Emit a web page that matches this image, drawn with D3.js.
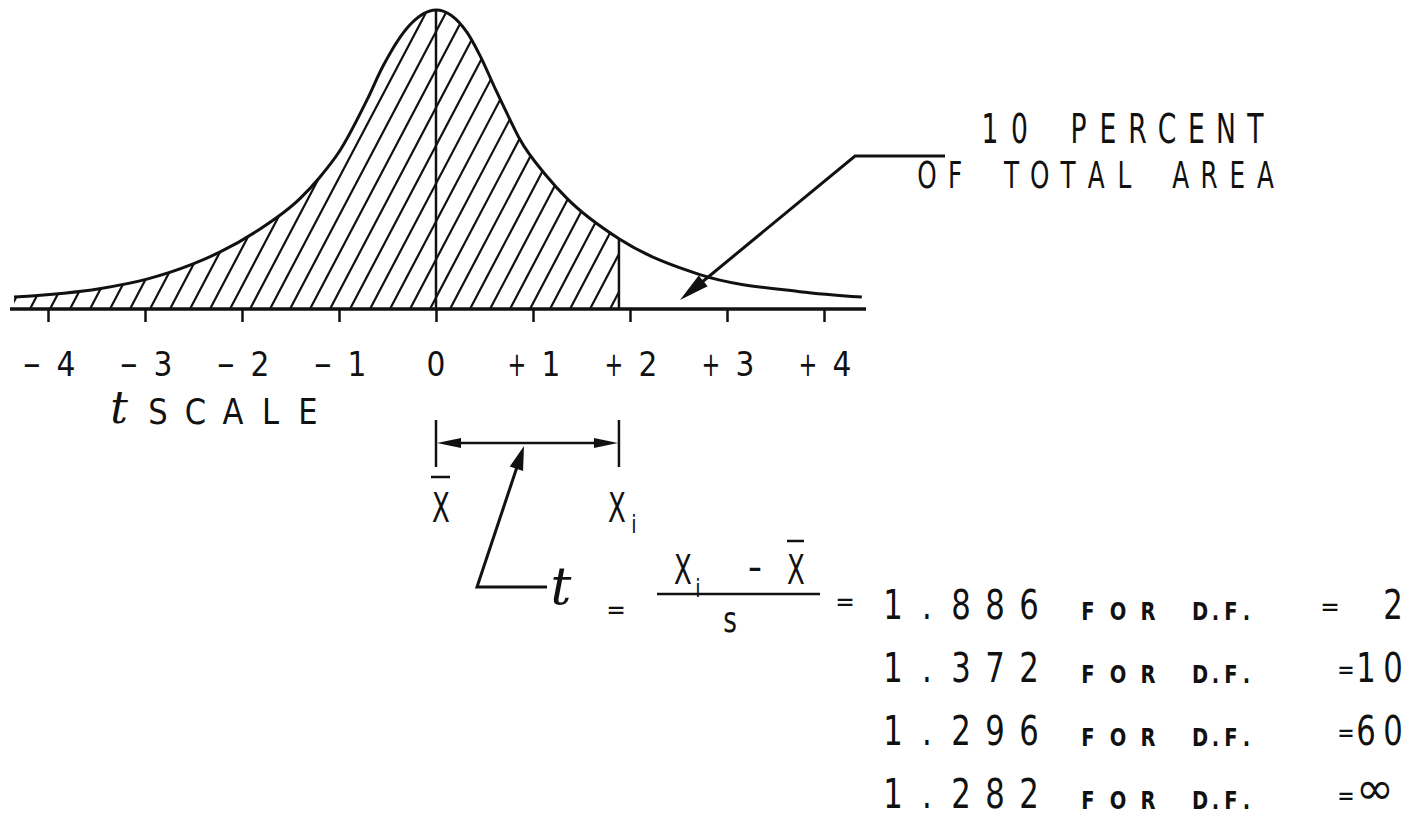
<!DOCTYPE html>
<meta charset="utf-8">
<style>
  body { margin: 0; background: #fff; }
  text { font-family: "DejaVu Sans", sans-serif; fill: #111; }
</style>
<svg id="chart" width="1414" height="820"></svg>
<script src="https://d3js.org/d3.v7.min.js"></script>
<script>

// curve: t value and height as a share of the peak
const curveT = [-4.35, -3.47, -2.98, -2.51, -2.23, -1.85, -1.4, -1.2, -0.99, -0.71, -0.55, -0.27, 0,
                0.32, 0.45, 0.62, 0.76, 0.86, 1.14, 1.35, 1.886, 2.72, 3.75, 4.39];
const curveH = [0.040, 0.068, 0.100, 0.150, 0.190, 0.260, 0.370, 0.440, 0.530, 0.700, 0.810, 0.950, 1,
                0.925, 0.850, 0.730, 0.635, 0.570, 0.445, 0.370, 0.235, 0.115, 0.058, 0.040];
const tickVals = [-4, -3, -2, -1, 0, 1, 2, 3, 4];
const cutT = 1.886;
const tValues = ["1.886", "1.372", "1.296", "1.282"];
const dfValues = ["2", "10", "60", "∞"];

const ink = "#111";
const svg = d3.select("#chart");

const x = d3.scaleLinear().domain([-4, 4]).range([48, 824]);
const y = d3.scaleLinear().domain([0, 1]).range([309, 10]);

const pts = curveT.map((t, i) => ({ t: t, h: curveH[i] }));
const line = d3.line().x(d => x(d.t)).y(d => y(d.h)).curve(d3.curveMonotoneX);
const area = d3.area().x(d => x(d.t)).y0(y(0)).y1(d => y(d.h)).curve(d3.curveMonotoneX);

// one character, centred, squeezed sideways like the lettering guide
function glyph(g, ch, cx, by, size, sx, opts) {
  opts = opts || {};
  return g.append("text")
    .attr("transform", "translate(" + cx + "," + by + ") scale(" + sx + ",1)")
    .attr("text-anchor", "middle")
    .attr("font-size", size)
    .attr("font-weight", opts.bold ? "bold" : null)
    .attr("font-style", opts.italic ? "italic" : null)
    .style("font-family", opts.serif ? "'DejaVu Serif', serif" : null)
    .text(ch);
}
function spaced(g, str, x0, pitch, by, size, sx, opts) {
  Array.from(str).forEach((ch, i) => {
    if (ch !== " ") glyph(g, ch, x0 + i * pitch, by, size, sx, opts);
  });
}
function arrowHead(g, fx, fy, tx, ty, len, half) {
  const dx = tx - fx, dy = ty - fy, L = Math.hypot(dx, dy);
  const ux = dx / L, uy = dy / L;
  const bx = tx - ux * len, by = ty - uy * len;
  g.append("path")
    .attr("d", "M" + tx + "," + ty + "L" + (bx - uy * half) + "," + (by + ux * half) +
               "L" + (bx + uy * half) + "," + (by - ux * half) + "Z")
    .attr("fill", ink);
}

// clip areas for the hatching
const defs = svg.append("defs");
defs.append("clipPath").attr("id", "under")
  .append("path").attr("d", area(pts));
defs.append("clipPath").attr("id", "leftOfCut")
  .append("rect").attr("x", 0).attr("y", 0)
  .attr("width", x(cutT)).attr("height", y(0));

const slope = 1.9;
const hatchX = d3.range(x(cutT) - 10, -200, -20);
svg.append("g").attr("clip-path", "url(#leftOfCut)")
  .append("g").attr("clip-path", "url(#under)")
  .selectAll("line")
  .data(hatchX)
  .join("line")
    .attr("x1", d => d).attr("y1", y(0) + 2)
    .attr("x2", d => d + (y(0) + 2) / slope).attr("y2", 0)
    .attr("stroke", ink).attr("stroke-width", 2.2);

// curve
svg.append("path")
  .attr("d", line(pts))
  .attr("fill", "none").attr("stroke", ink).attr("stroke-width", 3);

// centre line and cut-off line
svg.append("line")
  .attr("x1", x(0)).attr("y1", y(1)).attr("x2", x(0)).attr("y2", y(0))
  .attr("stroke", ink).attr("stroke-width", 2.5);
svg.append("line")
  .attr("x1", x(cutT)).attr("y1", y(curveH[curveT.indexOf(cutT)])).attr("x2", x(cutT)).attr("y2", y(0))
  .attr("stroke", ink).attr("stroke-width", 2.5);

// base line and ticks
svg.append("line")
  .attr("x1", 10).attr("x2", 866).attr("y1", y(0)).attr("y2", y(0))
  .attr("stroke", ink).attr("stroke-width", 3.5);
svg.append("g")
  .attr("transform", "translate(0," + y(0) + ")")
  .call(d3.axisBottom(x).tickValues(tickVals).tickSize(13).tickFormat(() => ""))
  .call(g => g.select(".domain").remove())
  .call(g => g.selectAll(".tick line").attr("stroke", ink).attr("stroke-width", 2.5));

const lab = svg.append("g");
tickVals.forEach(t => {
  if (t === 0) {
    glyph(lab, "0", x(t), 376, 33, 0.9);
  } else {
    glyph(lab, t < 0 ? "−" : "+", x(t) - 16, 376, 33, 0.68);
    glyph(lab, String(Math.abs(t)), x(t) + 18, 376, 33, 0.9);
  }
});
glyph(lab, "t", 119, 423, 44, 1, { italic: true, serif: true });
spaced(lab, "SCALE", 158, 37.5, 424, 36, 0.85);

// 10 percent call-out
const note = svg.append("g");
note.append("polyline")
  .attr("points", "945,156 855,156 690,292")
  .attr("fill", "none").attr("stroke", ink).attr("stroke-width", 3);
arrowHead(note, 855, 156, 680, 300, 30, 7);
spaced(note, "10 PERCENT", 990, 29.5, 143, 41, 0.65);
spaced(note, "OF TOTAL AREA", 927, 28.2, 188, 38, 0.65);

// X-bar to Xi bracket
const br = svg.append("g");
[x(0), x(cutT)].forEach(v => {
  br.append("line").attr("x1", v).attr("x2", v).attr("y1", 420).attr("y2", 467)
    .attr("stroke", ink).attr("stroke-width", 2.5);
});
br.append("line").attr("x1", x(0) + 10).attr("x2", x(cutT) - 10).attr("y1", 443).attr("y2", 443)
  .attr("stroke", ink).attr("stroke-width", 2.5);
arrowHead(br, x(cutT), 443, x(0) + 1, 443, 24, 5);
arrowHead(br, x(0), 443, x(cutT) - 1, 443, 24, 5);
glyph(br, "X", 441, 522, 40, 0.65);
br.append("line").attr("x1", 431).attr("x2", 450).attr("y1", 477).attr("y2", 477)
  .attr("stroke", ink).attr("stroke-width", 2.5);
glyph(br, "X", 617, 522, 40, 0.65);
glyph(br, "i", 634, 533, 24, 0.8);

// pointer to the formula
br.append("polyline")
  .attr("points", "547,587 477,587 520,458")
  .attr("fill", "none").attr("stroke", ink).attr("stroke-width", 3);
arrowHead(br, 477, 587, 524, 446, 24, 7);

// formula
const fm = svg.append("g");
glyph(fm, "t", 561, 604, 52, 1, { italic: true, serif: true });
glyph(fm, "=", 616, 619, 26, 0.9);
glyph(fm, "X", 683, 584, 40, 0.65);
glyph(fm, "i", 698, 597, 24, 0.8);
glyph(fm, "-", 755, 581, 40, 1);
glyph(fm, "X", 796, 584, 40, 0.65);
fm.append("line").attr("x1", 787).attr("x2", 804).attr("y1", 541).attr("y2", 541)
  .attr("stroke", ink).attr("stroke-width", 2.5);
fm.append("line").attr("x1", 657).attr("x2", 820).attr("y1", 594).attr("y2", 594)
  .attr("stroke", ink).attr("stroke-width", 2.5);
glyph(fm, "s", 730, 632, 35, 0.75);
glyph(fm, "=", 845, 611, 26, 0.9);

// t values for each degrees of freedom
tValues.forEach((v, r) => {
  const by = 619 + r * 63;
  spaced(fm, v, 893, 34, by, 41, 0.75);
  spaced(fm, "FOR", 1088, 30, by + 1, 25, 0.78, { bold: true });
  spaced(fm, "D.F.", 1200, 15.5, by + 1, 25, 0.78, { bold: true });
  const df = dfValues[r];
  if (df === "∞") {
    glyph(fm, "=", 1346, by - 3, 26, 0.8);
    glyph(fm, df, 1375, by - 4, 46, 1);
  } else if (df.length === 1) {
    glyph(fm, "=", 1330, by - 3, 26, 0.9);
    glyph(fm, df, 1393, by, 41, 0.75);
  } else {
    glyph(fm, "=", 1346, by - 3, 26, 0.8);
    spaced(fm, df, 1366, 27, by, 41, 0.75);
  }
});

</script>
